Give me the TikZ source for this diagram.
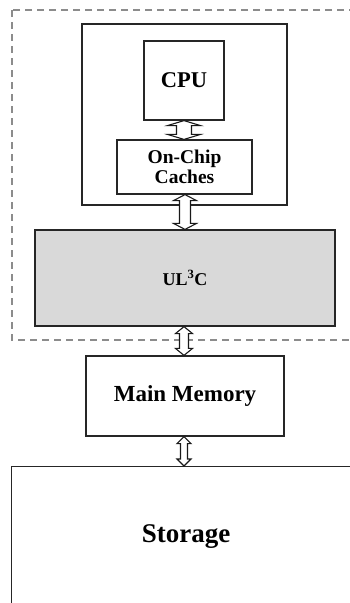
\documentclass[tikz,border=0pt]{standalone}
\usepackage{fontspec}
\setmainfont{Liberation Serif}
\usetikzlibrary{calc}
\definecolor{ulgray}{HTML}{D9D9D9}
\definecolor{dashgray}{HTML}{8C8C8C}
\tikzset{
  boxnode/.style={draw=black!85, line width=1.2pt, rectangle, inner sep=0pt, font=\bfseries, align=center},
  arrowline/.style={draw=black!90, line width=1.1pt, fill=white, line join=miter},
  dashbox/.style={draw=dashgray, line width=1.1pt, dash pattern=on 7pt off 5pt},
}
% #1 top coordinate, #2 bottom coordinate, #3 head half width, #4 shaft half width, #5 head length
\newcommand\blockdbl[5]{%
  \path[arrowline] let \p1=(#1), \p2=(#2) in
    (\x1,\y1) -- (\x1+#3,\y1-#5) -- (\x1+#4,\y1-#5) -- (\x1+#4,\y2+#5) -- (\x1+#3,\y2+#5)
    -- (\x1,\y2) -- (\x1-#3,\y2+#5) -- (\x1-#4,\y2+#5) -- (\x1-#4,\y1-#5) -- (\x1-#3,\y1-#5) -- cycle;}
\begin{document}
\begin{tikzpicture}[x=1pt,y=1pt]
\useasboundingbox (0,0) rectangle (350,-603);
\clip (0,0) rectangle (350,-603);
% dashed enclosure
\draw[dashbox] (12,-10) rectangle (370,-340);
% chip box
\node[boxnode, minimum width=205pt, minimum height=181pt] (chip) at (184.5,-114.5) {};
\node[boxnode, minimum width=80pt, minimum height=79pt, font=\bfseries\fontsize{22.5}{24}\selectfont] (cpu) at (184,-80.5) {CPU};
\node[boxnode, minimum width=135pt, minimum height=54pt, font=\bfseries\fontsize{19.5}{21}\selectfont] (cache) at (184.5,-167) {On-Chip\\[-1pt]Caches};
\node[boxnode, fill=ulgray, minimum width=300pt, minimum height=96pt, font=\bfseries\fontsize{18}{19}\selectfont] (ul3c) at (185,-278) {\raisebox{-5pt}{UL\textsuperscript{3}C}};
\node[boxnode, minimum width=198pt, minimum height=80pt, font=\bfseries\fontsize{23}{25}\selectfont] (mm) at (185,-396) {Main Memory};
\node[boxnode, minimum width=380pt, minimum height=200pt, anchor=north west] (storage) at (11,-466) {};
\node[font=\bfseries\fontsize{27}{29}\selectfont] (storagelbl) at (186,-537) {Storage};
% block arrows
\blockdbl{cpu.south}{cache.north}{16.5}{7.5}{5}
\blockdbl{$(cache.south)+(0.5,0)$}{$(ul3c.north)+(0.5,0)$}{11.5}{5.5}{6}
\blockdbl{$(ul3c.south)+(-1,0)$}{$(mm.north)+(-1,0)$}{8.5}{4.5}{7}
\blockdbl{$(mm.south)+(-1,0)$}{$(storage.north west)+(173,0)$}{7}{3.5}{7}
\end{tikzpicture}
\end{document}
